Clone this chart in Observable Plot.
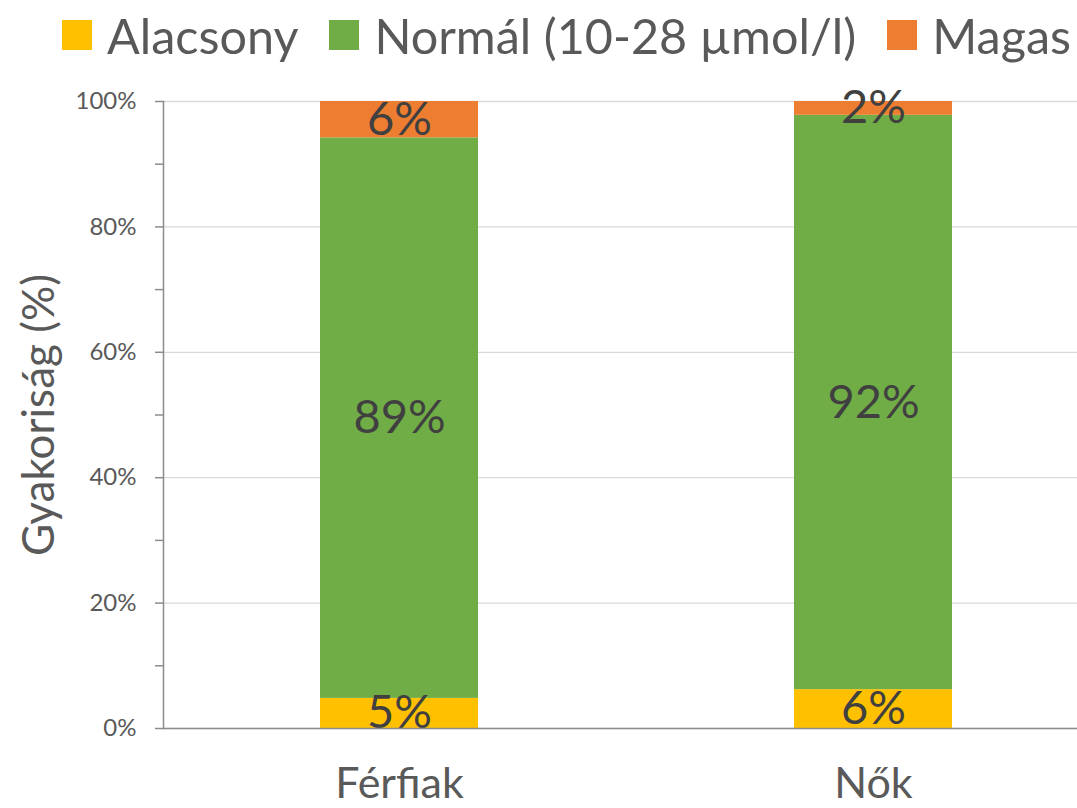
<!DOCTYPE html>
<html>
<head>
<meta charset="utf-8">
<script src="https://cdn.jsdelivr.net/npm/d3@7"></script>
<script src="https://cdn.jsdelivr.net/npm/@observablehq/plot@0.6"></script>
<style>
  html, body { margin: 0; padding: 0; background: #fff; }
  #wrap { position: relative; width: 1077px; height: 808px; overflow: hidden; font-family: Lato, sans-serif; }
  #legend { position: absolute; left: 62px; top: 6px; display: flex; align-items: center; font-size: 48.5px; color: #595959; white-space: nowrap; }
  .sw { width: 30px; height: 30px; margin-right: 15px; }
  .item { display: flex; align-items: center; margin-right: 31px; }
  #chart { position: absolute; left: 0; top: 0; }
</style>
</head>
<body>
<div id="wrap">
  <div id="chart"></div>
  <div id="legend"></div>
</div>
<script>
const groups = ["Férfiak", "Nők"];
const categories = ["Alacsony", "Normál (10-28 µmol/l)", "Magas"];
const colors = ["#FFC000", "#70AD47", "#ED7D31"];
const ferfiak = [4.8, 89.4, 5.8];
const nok = [6.2, 91.6, 2.2];
const yTicks = [0, 20, 40, 60, 80, 100];
const yMinorTicks = [10, 30, 50, 70, 90];
const yTitle = "Gyakoriság (%)";

const seriesByGroup = [ferfiak, nok];
const data = [];
groups.forEach((g, gi) => {
  categories.forEach((c, ci) => data.push({g, cat: c, v: seriesByGroup[gi][ci]}));
});

const legend = document.getElementById("legend");
categories.forEach((c, i) => {
  const it = document.createElement("div");
  it.className = "item";
  const sw = document.createElement("div");
  sw.className = "sw";
  sw.style.background = colors[i];
  const t = document.createElement("span");
  t.textContent = c;
  it.appendChild(sw); it.appendChild(t);
  legend.appendChild(it);
});

const chart = Plot.plot({
  width: 1077,
  height: 808,
  marginTop: 101,
  marginBottom: 80,
  marginLeft: 163,
  marginRight: 0,
  style: {fontFamily: "Lato, sans-serif", background: "transparent", overflow: "visible"},
  x: {domain: groups, paddingInner: 0.667, paddingOuter: 0.2975, align: 0.557, label: null},
  y: {domain: [0, 100], label: null},
  color: {domain: categories, range: colors},
  marks: [
    Plot.gridY(yTicks, {stroke: "#D9D9D9", strokeOpacity: 1, strokeWidth: 1.3}),
    Plot.barY(data, {x: "g", y: "v", z: "cat", fill: "cat", order: categories}),
    Plot.text(data, Plot.stackY({x: "g", y: "v", z: "cat", order: categories, text: d => Math.round(d.v) + "%", fontSize: 47, fill: "#404040", lineAnchor: "middle"})),
    Plot.ruleY([0], {stroke: "#8C8C8C", strokeWidth: 1.5}),
    Plot.frame({anchor: "left", stroke: "#8C8C8C", strokeWidth: 1.5}),
    Plot.axisY(yTicks, {tickSize: 8, tickPadding: 19, tickFormat: d => d + "%", fontSize: 24, color: "#595959", stroke: "#8C8C8C", strokeWidth: 1.5, label: yTitle, labelAnchor: "center", labelOffset: 141, labelArrow: "none"}),
    Plot.axisY(yMinorTicks, {tickSize: 8, text: null, stroke: "#8C8C8C", strokeWidth: 1.5, label: null}),
    Plot.axisX({tickSize: 0, tickPadding: 39, fontSize: 43, color: "#595959", label: null})
  ]
});
document.getElementById("chart").appendChild(chart);
chart.querySelectorAll("[aria-label='y-axis label'] text, g[aria-label='y-axis label'] text").forEach(t => { t.style.fontSize = "44px"; });
</script>
</body>
</html>
